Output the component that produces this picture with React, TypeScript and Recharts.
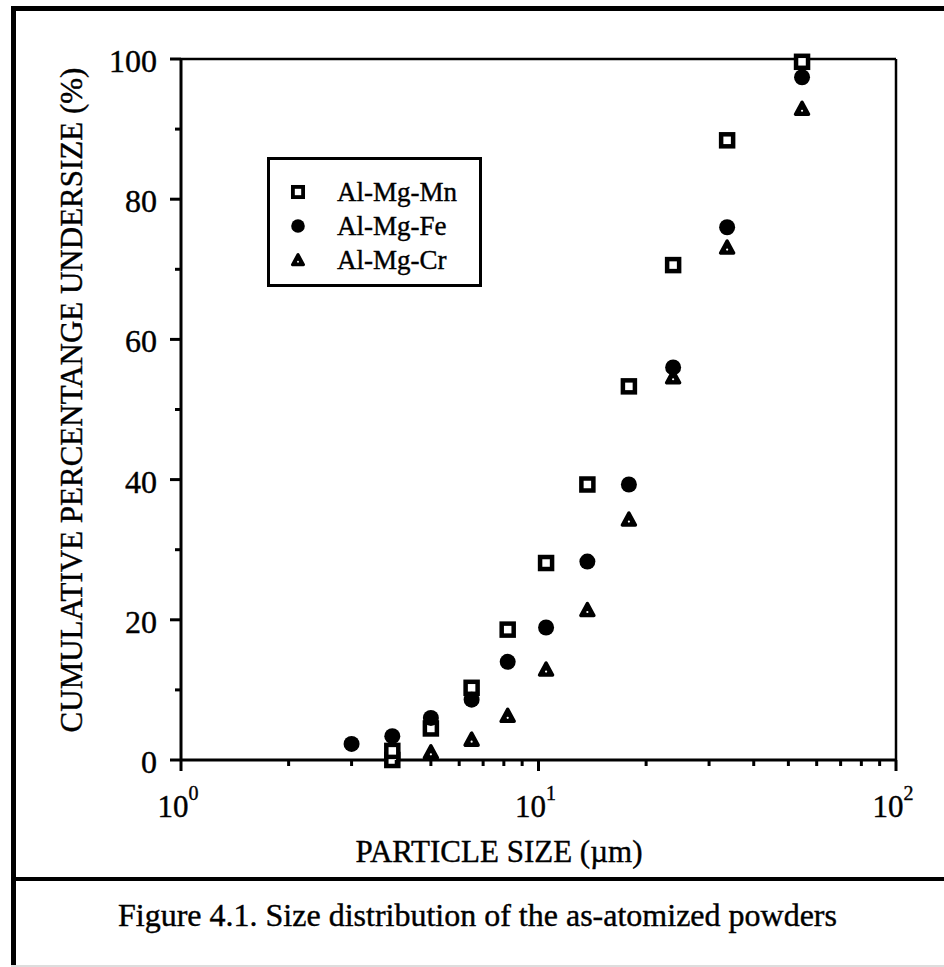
import React from "react";
import { ScatterChart, Scatter, XAxis, YAxis, Legend, ReferenceLine, Label } from "recharts";

// particle size (µm) and cumulative % undersize
const mnSize = [3.9, 3.9, 5.0, 6.5, 8.2, 10.5, 13.7, 17.9, 23.8, 33.7, 54.6];
const mnPct = [0, 1.3, 4.5, 10.3, 18.6, 28.1, 39.3, 53.3, 70.6, 88.4, 99.6];

const feSize = [3.0, 3.9, 5.0, 6.5, 8.2, 10.5, 13.7, 17.9, 23.8, 33.7, 54.6];
const fePct = [2.3, 3.4, 6.0, 8.6, 14.0, 18.9, 28.3, 39.3, 56.0, 76.0, 97.4];

const crSize = [5.0, 6.5, 8.2, 10.5, 13.7, 17.9, 23.8, 33.7, 54.6];
const crPct = [1.1, 2.9, 6.3, 12.9, 21.4, 34.3, 54.6, 73.1, 92.9];

const seriesNames = ["Al-Mg-Mn", "Al-Mg-Fe", "Al-Mg-Cr"];

const xTicks = [1, 2, 3, 4, 5, 6, 7, 8, 9, 10, 20, 30, 40, 50, 60, 70, 80, 90, 100];
const xMajor = [1, 10, 100];
const yTicks = [0, 10, 20, 30, 40, 50, 60, 70, 80, 90, 100];
const yMajor = [0, 20, 40, 60, 80, 100];

const FONT = '"Liberation Serif", "Times New Roman", serif';
// scanned print looks a little heavier than the plain font
const INK = { fill: "#000", stroke: "#000", strokeWidth: 0.4 };

const toPoints = (xs: number[], ys: number[]) => xs.map((x, i) => ({ x, y: ys[i] }));

const SquareMark = ({ cx, cy, s = 1 }: any) => (
  <rect x={cx - 6 * s} y={cy - 6 * s} width={12 * s} height={12 * s} fill="#fff" stroke="#000" strokeWidth={4.5 * s} />
);

const CircleMark = ({ cx, cy, s = 1 }: any) => <circle cx={cx} cy={cy} r={8 * s} fill="#000" />;

const TriangleMark = ({ cx, cy, s = 1 }: any) => (
  <g>
    <polygon
      points={`${cx},${cy - 6.5 * s} ${cx - 6.5 * s},${cy + 5.5 * s} ${cx + 6.5 * s},${cy + 5.5 * s}`}
      fill="#000"
      stroke="#000"
      strokeWidth={3.5 * s}
      strokeLinejoin="round"
    />
    <circle cx={cx} cy={cy + 2 * s} r={1.1 * s} fill="#fff" />
  </g>
);

const marks = [SquareMark, CircleMark, TriangleMark];

const XTick = ({ x, y, payload }: any) => {
  const v = payload.value;
  const major = xMajor.includes(v);
  return (
    <g>
      <line x1={x} x2={x} y1={y} y2={y + (major ? 11 : 6)} stroke="#000" strokeWidth={3} />
      {major && (
        <text x={x - 3} y={y + 57} textAnchor="middle" fontSize={31} fontFamily={FONT} {...INK}>
          10
          <tspan dy={-17} fontSize={20}>
            {Math.round(Math.log10(v))}
          </tspan>
        </text>
      )}
    </g>
  );
};

const YTick = ({ x, y, payload }: any) => {
  const v = payload.value;
  const major = yMajor.includes(v);
  return (
    <g>
      <line x1={x - (major ? 11 : 6)} x2={x} y1={y} y2={y} stroke="#000" strokeWidth={3} />
      {major && (
        <text x={x - 24} y={y + 13} textAnchor="end" fontSize={32} fontFamily={FONT} {...INK}>
          {v}
        </text>
      )}
    </g>
  );
};

const XTitle = ({ viewBox }: any) => (
  <text x={viewBox.x + 318} y={viewBox.y + 102} textAnchor="middle" fontSize={31} fontFamily={FONT} {...INK}>
    PARTICLE SIZE (µm)
  </text>
);

const YTitle = ({ viewBox }: any) => {
  const x = viewBox.x + 1;
  const y = 400;
  return (
    <text
      x={x}
      y={y}
      transform={`rotate(-90, ${x}, ${y})`}
      textAnchor="middle"
      fontSize={31}
      fontFamily={FONT}
      {...INK}
    >
      CUMULATIVE PERCENTANGE UNDERSIZE (%)
    </text>
  );
};

const LegendBox = () => (
  <svg width={215} height={130}>
    <rect x={1.5} y={1.5} width={212} height={127} fill="#fff" stroke="#000" strokeWidth={3} />
    {seriesNames.map((name, i) => {
      const Mark = marks[i];
      const cy = 35 + i * 34;
      return (
        <g key={name}>
          <Mark cx={31} cy={cy} s={0.85} />
          <text x={70} y={cy + 9} fontSize={27} fontFamily={FONT} {...INK}>
            {name}
          </text>
        </g>
      );
    })}
  </svg>
);

export default function App() {
  const series = [toPoints(mnSize, mnPct), toPoints(feSize, fePct), toPoints(crSize, crPct)];

  return (
    <div style={{ position: "absolute", left: 0, top: 0, width: 944, height: 967, background: "#fff", overflow: "hidden" }}>
      {/* figure frame */}
      <div style={{ position: "absolute", left: 11, top: 6, width: 933, height: 5, background: "#000" }} />
      <div style={{ position: "absolute", left: 11, top: 6, width: 5, height: 961, background: "#000" }} />
      <div style={{ position: "absolute", left: 11, top: 877, width: 933, height: 4, background: "#000" }} />
      <div style={{ position: "absolute", left: 11, top: 965, width: 933, height: 2, background: "#ddd" }} />

      <div style={{ position: "absolute", left: 0, top: 0 }}>
        <ScatterChart width={944} height={967} margin={{ top: 59, right: 48, bottom: 147, left: 81 }}>
          <XAxis
            dataKey="x"
            type="number"
            scale="log"
            domain={[1, 100]}
            ticks={xTicks}
            interval={0}
            tick={<XTick />}
            tickLine={false}
            tickSize={0}
            tickMargin={0}
            height={60}
            axisLine={{ stroke: "#000", strokeWidth: 3 }}
            allowDataOverflow
          >
            <Label content={<XTitle />} />
          </XAxis>
          <YAxis
            dataKey="y"
            type="number"
            domain={[0, 100]}
            ticks={yTicks}
            interval={0}
            tick={<YTick />}
            tickLine={false}
            tickSize={0}
            tickMargin={0}
            width={100}
            axisLine={{ stroke: "#000", strokeWidth: 3 }}
          >
            <Label content={<YTitle />} />
          </YAxis>
          <ReferenceLine y={100} stroke="#000" strokeWidth={2.5} />
          <ReferenceLine x={100} stroke="#000" strokeWidth={2.5} />
          {series.map((data, i) => (
            <Scatter
              key={seriesNames[i]}
              name={seriesNames[i]}
              data={data}
              shape={marks[i]}
              isAnimationActive={false}
            />
          ))}
          <Legend
            layout="horizontal"
            verticalAlign="middle"
            align="center"
            content={<LegendBox />}
            wrapperStyle={{ position: "absolute", left: 267, top: 157, width: 215, height: 130 }}
          />
        </ScatterChart>
      </div>

      <svg style={{ position: "absolute", left: 0, top: 0 }} width={944} height={967} pointerEvents="none">
        <text x={118} y={926} fontSize={32} fontFamily={FONT} {...INK}>
          Figure 4.1. Size distribution of the as-atomized powders
        </text>
      </svg>
    </div>
  );
}
